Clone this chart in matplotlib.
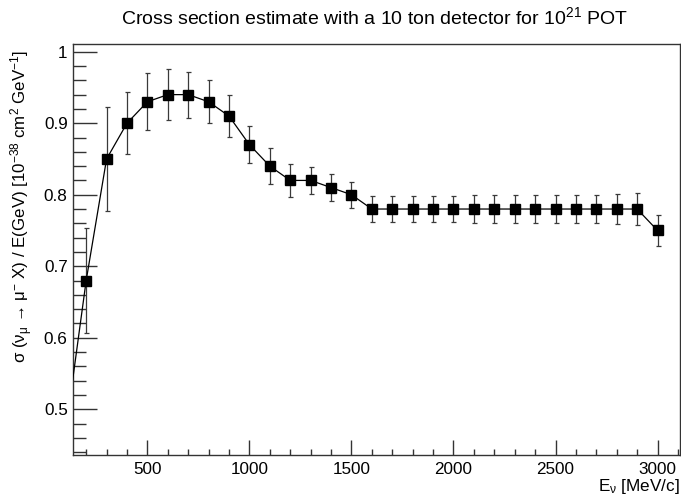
import matplotlib
matplotlib.use("Agg")
import matplotlib.pyplot as plt
from matplotlib.ticker import MultipleLocator

plt.rcParams['font.family'] = ['Liberation Sans', 'DejaVu Sans']
plt.rcParams['mathtext.fontset'] = 'custom'
plt.rcParams['mathtext.rm'] = 'Liberation Sans'
plt.rcParams['mathtext.default'] = 'regular'

energy = [100, 200, 300, 400, 500, 600, 700, 800, 900, 1000, 1100, 1200, 1300, 1400, 1500,
          1600, 1700, 1800, 1900, 2000, 2100, 2200, 2300, 2400, 2500, 2600, 2700, 2800, 2900, 3000]
xsec = [0.47, 0.68, 0.85, 0.90, 0.93, 0.94, 0.94, 0.93, 0.91, 0.87, 0.84, 0.82, 0.82, 0.81, 0.80,
        0.78, 0.78, 0.78, 0.78, 0.78, 0.78, 0.78, 0.78, 0.78, 0.78, 0.78, 0.78, 0.78, 0.78, 0.75]
xsec_err = [0.08, 0.073, 0.073, 0.043, 0.040, 0.036, 0.032, 0.030, 0.029, 0.026, 0.025, 0.023, 0.019,
            0.019, 0.018, 0.018, 0.018, 0.018, 0.018, 0.018, 0.019, 0.019, 0.019, 0.019, 0.020,
            0.020, 0.020, 0.021, 0.022, 0.022]

W, H = 681, 499
fig = plt.figure(figsize=(W / 100, H / 100), dpi=100)
ax = fig.add_axes([72.5 / W, 1 - 455 / H, (680 - 72.5) / W, (455 - 44) / H])

ax.errorbar(energy, xsec, yerr=xsec_err, fmt='none', ecolor='#3a3a3a', elinewidth=0.9,
            capsize=1.8, capthick=0.9, zorder=2)
ax.plot(energy, xsec, color='black', lw=0.9, zorder=3)
ax.plot(energy, xsec, ls='none', marker='s', ms=6.8, color='black', zorder=4)

ax.set_xlim(133, 3110)
ax.set_ylim(0.436, 1.0108)

ax.xaxis.set_major_locator(MultipleLocator(500))
ax.xaxis.set_minor_locator(MultipleLocator(100))
ax.yaxis.set_minor_locator(MultipleLocator(0.02))
ax.set_yticks([0.5, 0.6, 0.7, 0.8, 0.9, 1.0])
ax.set_yticklabels(['0.5', '0.6', '0.7', '0.8', '0.9', '1'])

ax.tick_params(axis='both', which='both', direction='in', top=False, right=False,
               color='#333333', width=1.0, labelsize=12.3)
ax.tick_params(axis='y', which='major', length=17, pad=3.5)
ax.tick_params(axis='y', which='minor', length=9)
ax.tick_params(axis='x', which='major', length=11, pad=5)
ax.tick_params(axis='x', which='minor', length=4)
for s in ax.spines.values():
    s.set_linewidth(1.0)
    s.set_color('#333333')

fig.text(375 / W, 1 - 17 / H,
         r'Cross section estimate with a 10 ton detector for 10$^{21}$ POT',
         ha='center', va='center', fontsize=14)

fig.text(680 / W, 1 - 487 / H, r'E$_{\nu}$ [MeV/c]', ha='right', va='center', fontsize=12.3)

fig.text(22 / W, 1 - 50 / H,
         r'σ (ν$_{\mu}$ → μ$^{-}$ X) / E(GeV) [10$^{-38}$ cm$^{2}$ GeV$^{-1}$]',
         rotation=90, ha='center', va='top', fontsize=12.2)

fig.savefig('out.png', dpi=100)
